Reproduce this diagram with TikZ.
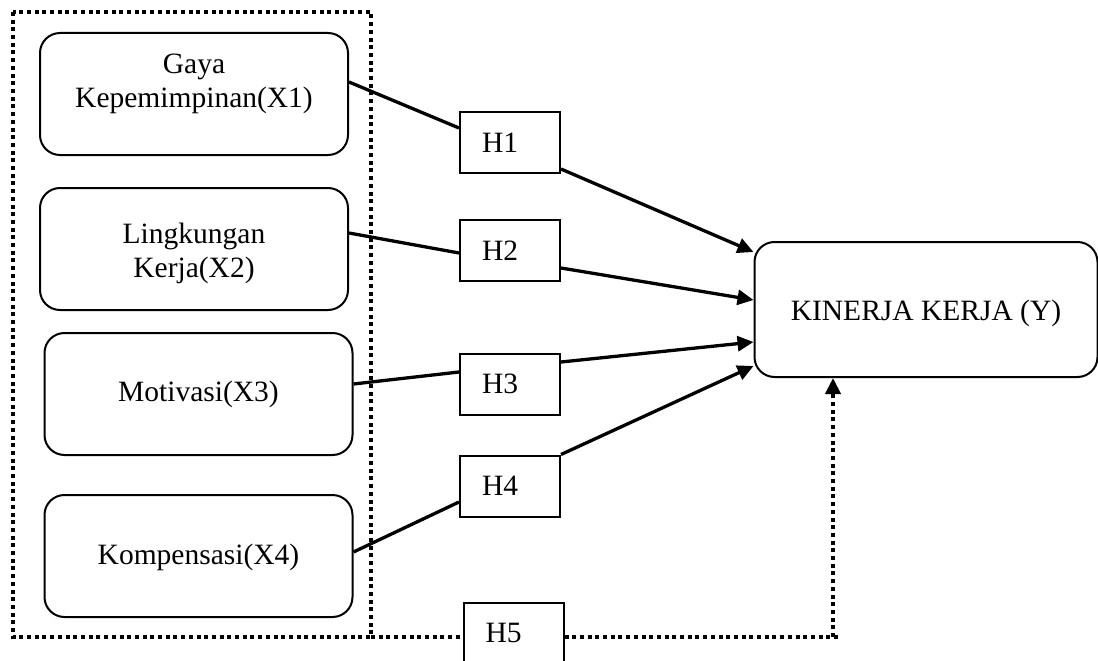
\documentclass[tikz,border=0pt]{standalone}
\usepackage{fontspec}
\setmainfont{Liberation Serif}
\usetikzlibrary{arrows.meta}
\begin{document}
\begin{tikzpicture}[x=1pt,y=-1pt,
  font=\fontsize{29.5pt}{34pt}\selectfont,
  xbox/.style={draw, line width=2pt, rounded corners=20pt, minimum width=308pt, minimum height=122pt, inner sep=0pt},
  kbox/.style={draw, line width=2pt, rounded corners=20pt, minimum width=343pt, minimum height=135pt, inner sep=0pt},
  hbox/.style={draw, line width=2pt, minimum height=61pt, text width=56pt, inner xsep=22pt, inner ysep=0pt, align=left},
  lbl/.style={align=center, inner sep=0pt},
  conn/.style={line width=3.3pt},
  arr/.style={line width=3.3pt, -{Triangle[length=16pt,width=15pt]}},
  dots/.style={line width=4pt, dash pattern=on 4pt off 3.7pt}
]
\useasboundingbox (0,0) rectangle (1098,661);
% dotted frame
\coordinate (ftl) at (13,12);
\coordinate (fbr) at (371,637);
\draw[dots] (ftl) rectangle (fbr);
% X boxes
\node[xbox] (x1) at (194,94) {};
\node[lbl] (t1) at (194,84) {Gaya\\Kepemimpinan(X1)};
\node[xbox] (x2) at (194,249) {};
\node[lbl] (t2) at (194,253) {Lingkungan\\Kerja(X2)};
\node[xbox] (x3) at (198.5,394) {};
\node[lbl] (t3) at (198.5,394) {Motivasi(X3)};
\node[xbox] (x4) at (198.5,556) {};
\node[lbl] (t4) at (198.5,557) {Kompensasi(X4)};
% Y box
\node[kbox] (kin) at (926,309.5) {};
\node[lbl] (tk) at (926,313) {KINERJA KERJA (Y)};
% H boxes
\node[hbox] (h1) at (510,142.5) {H1};
\node[hbox] (h2) at (510,250.5) {H2};
\node[hbox] (h3) at (510,384) {H3};
\node[hbox] (h4) at (510,486) {H4};
\node[hbox] (h5) at (513.5,633) {H5};
% connectors
\draw[conn] ([yshift=12pt]x1.east) -- ([yshift=14.5pt]h1.west);
\draw[arr] ([yshift=-26.5pt]h1.east) -- ([yshift=57.5pt]kin.west);
\draw[conn] ([yshift=16pt]x2.east) -- ([yshift=-2.5pt]h2.west);
\draw[arr] ([yshift=-17.5pt]h2.east) -- ([yshift=9.5pt]kin.west);
\draw[conn] ([yshift=10pt]x3.east) -- ([yshift=12pt]h3.west);
\draw[arr] ([yshift=22pt]h3.east) -- ([yshift=-32.5pt]kin.west);
\draw[conn] ([yshift=4pt]x4.east) -- ([yshift=-16pt]h4.west);
\draw[arr] (h4.north east) -- ([yshift=-56.5pt]kin.west);
% H5 dotted path
\coordinate (c1) at (841,637);
\coordinate (c2) at (833,637);
\draw[dots] (fbr) -- (h5.west |- fbr);
\draw[dots] (h5.east |- fbr) -- (c1);
\draw[dots, -{Triangle[length=16pt,width=15pt]}] (c2) -- (c2 |- kin.south);
\end{tikzpicture}
\end{document}
